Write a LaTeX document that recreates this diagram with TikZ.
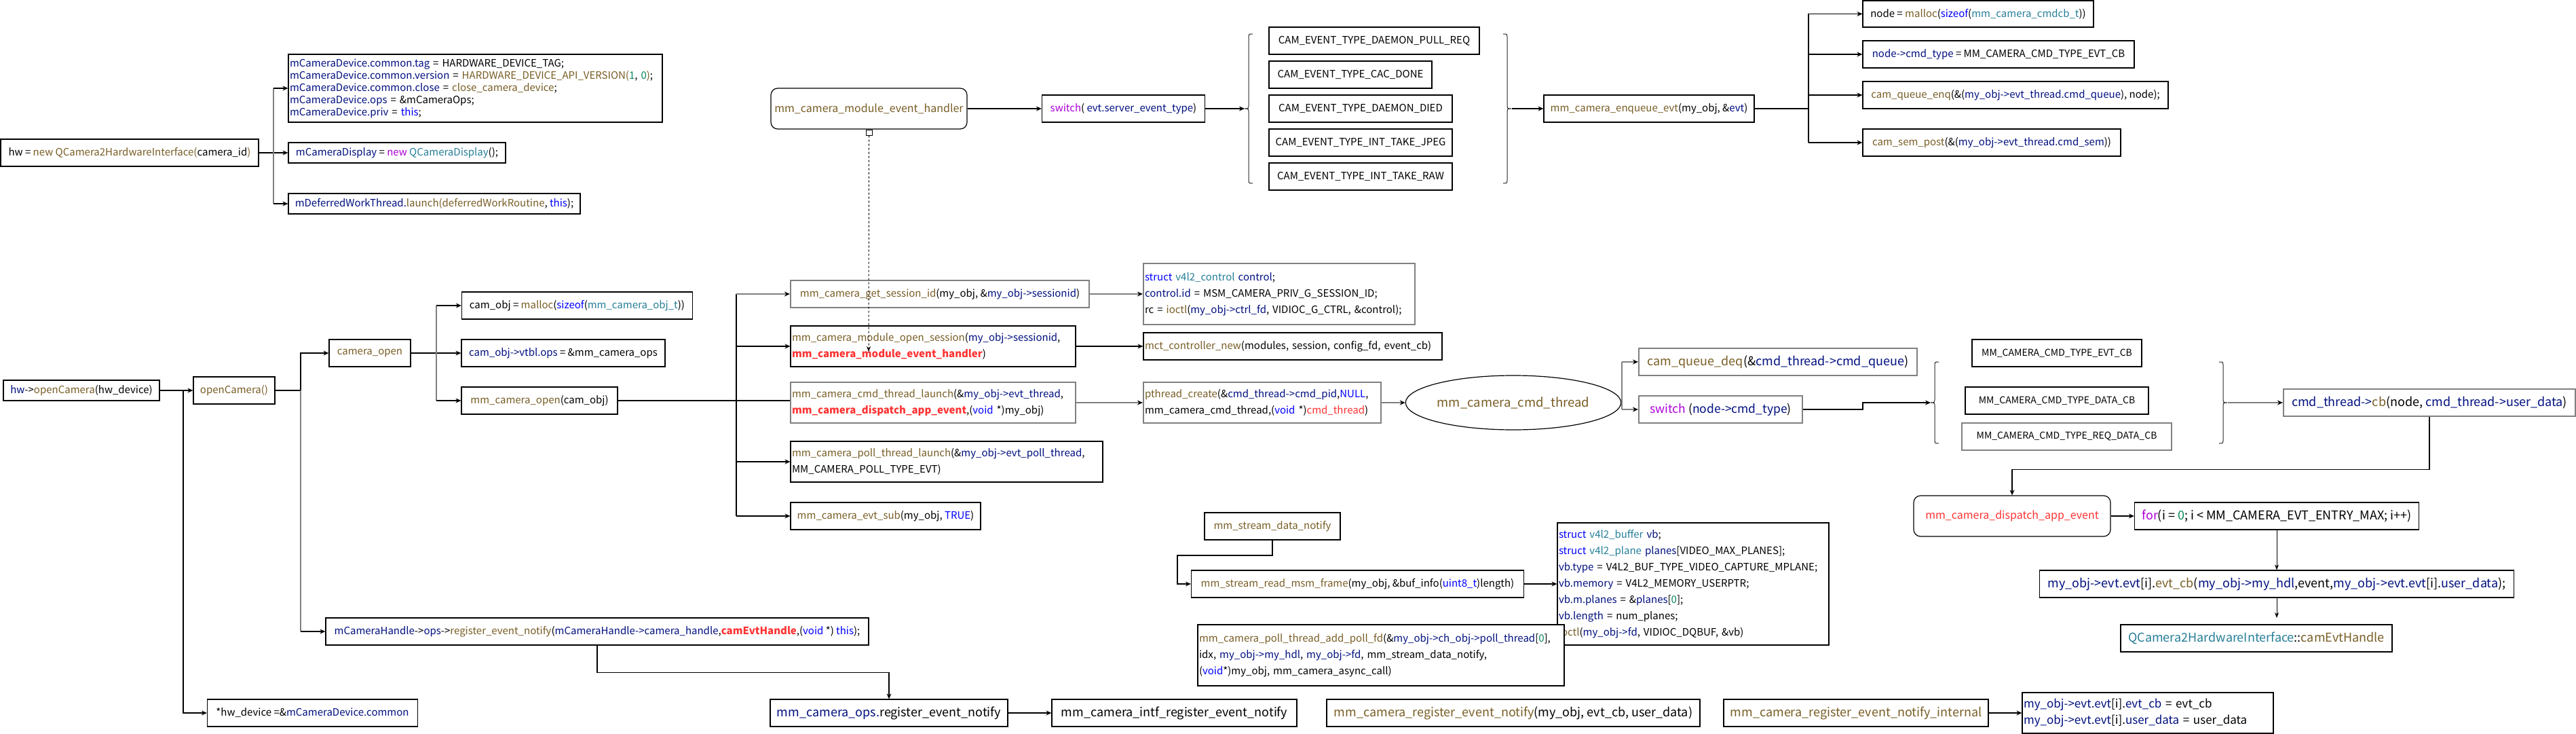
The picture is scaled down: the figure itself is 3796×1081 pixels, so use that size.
\documentclass[tikz,border=0pt]{standalone}
\usepackage{fontspec}
\setmainfont{Noto Sans CJK SC}
\usetikzlibrary{arrows.meta,shapes.geometric,calc}
\definecolor{cfn}{HTML}{795E26}
\definecolor{cvr}{HTML}{001080}
\definecolor{ckw}{HTML}{0000FF}
\definecolor{cty}{HTML}{267F99}
\definecolor{cct}{HTML}{AF00DB}
\definecolor{cnm}{HTML}{098658}
\definecolor{crd}{HTML}{FF3333}
\definecolor{gline}{HTML}{808080}
\newcommand\cF[1]{\textcolor{cfn}{#1}}
\newcommand\cV[1]{\textcolor{cvr}{#1}}
\newcommand\cK[1]{\textcolor{ckw}{#1}}
\newcommand\cT[1]{\textcolor{cty}{#1}}
\newcommand\cC[1]{\textcolor{cct}{#1}}
\newcommand\cN[1]{\textcolor{cnm}{#1}}
\newcommand\cR[1]{\textcolor{crd}{#1}}
\tikzset{
  bx/.style={draw=black, line width=1.2pt, rectangle, inner sep=0pt, fill=white, font=\fontsize{15}{24}\selectfont},
  gbx/.style={bx, draw=gline, line width=2.2pt},
  lbx/.style={bx, align=left, inner xsep=2pt},
  glbx/.style={gbx, align=left, inner xsep=2pt},
  sz/.style n args={2}{minimum width=#1pt, minimum height=#2pt},
  ln/.style={line width=1.2pt, draw=black},
  gln/.style={line width=2pt, draw=gline},
  arr/.style={ln, -{Stealth[length=8pt,width=7pt,black]}},
  garr/.style={gln, -{Stealth[length=8pt,width=7pt,black]}},
  tarr/.style={line width=0.8pt, -{Stealth[length=8pt,width=6pt]}},
  brc/.style={line width=1pt, draw=black!85},
  f14/.style={font=\fontsize{14}{20}\selectfont},
  f15/.style={font=\fontsize{15}{20}\selectfont},
  f16/.style={font=\fontsize{16}{24}\selectfont},
  f17/.style={font=\fontsize{17}{24}\selectfont},
  f175/.style={font=\fontsize{17.5}{24}\selectfont},
  f18/.style={font=\fontsize{18}{24}\selectfont},
  f185/.style={font=\fontsize{18.5}{24}\selectfont},
}
\begin{document}
\catcode`\_=12
\begin{tikzpicture}[x=1pt,y=-1pt]
\path[use as bounding box, fill=white] (0,0) rectangle (3796,1081);

% ---------- constructor part ----------
\node[bx, sz={380}{40}] (hwnew) at (191,225) {hw = \cF{new QCamera2HardwareInterface(}camera_id\cF{)}};
\node[lbx, sz={551}{100}, text width=547pt, font=\fontsize{15}{18}\selectfont] (devinit) at (700.5,130) {\cV{mCameraDevice.common.tag} = HARDWARE_DEVICE_TAG;\\
\cV{mCameraDevice.common.version} = \cF{HARDWARE_DEVICE_API_VERSION(}\cN{1}, \cN{0}\cF{)};\\
\cV{mCameraDevice.common.close} = \cF{close_camera_device};\\
\cV{mCameraDevice.ops} = \&mCameraOps;\\
\cV{mCameraDevice.priv} = \cK{this};};
\node[bx, sz={320}{30}] (disp) at (585,225) {\cV{mCameraDisplay} = \cC{new} \cT{QCameraDisplay}();};
\node[bx, sz={430}{30}] (defer) at (640,300) {\cV{mDeferredWorkThread.}\cF{launch(deferredWorkRoutine}, \cK{this});};

% ---------- openCamera part ----------
\node[bx, sz={230}{30}] (hwopen) at (120,575) {\cV{hw}->\cF{openCamera}(hw_device)};
\node[bx, sz={120}{40}] (opencam) at (345,575) {\cF{openCamera()}};
\node[bx, sz={120}{40}] (camopen) at (545,520) {\cF{camera_open}};
\node[bx, sz={340}{40}] (malloc) at (850.5,450) {cam_obj = \cF{malloc}(\cK{sizeof}(\cT{mm_camera_obj_t}))};
\node[bx, sz={300}{40}] (vtbl) at (830,520) {\cV{cam_obj->vtbl.ops} = \&mm_camera_ops};
\node[bx, sz={230}{40}] (mmopen) at (795,590) {\cF{mm_camera_open}(cam_obj)};
\node[bx, sz={310}{40}] (hwdev) at (460.5,1050) {*hw_device =\&\cV{mCameraDevice.common}};
\node[bx, sz={800}{40}] (handle) at (880,930) {\cV{mCameraHandle}->\cV{ops}->\cF{register_event_notify}(\cV{mCameraHandle->camera_handle},\textbf{\cR{camEvtHandle}},(\cK{void} *) \cK{this});};

% ---------- mm_camera_open children ----------
\node[gbx, sz={440}{40}] (getsid) at (1385,433) {\cF{mm_camera_get_session_id}(my_obj, \&\cV{my_obj->sessionid})};
\node[lbx, sz={420}{60}, text width=416pt] (opensess) at (1375,510) {\cF{mm_camera_module_open_session}(\cV{my_obj->sessionid},\\ \textbf{\cR{mm_camera_module_event_handler}})};
\node[glbx, sz={420}{60}, text width=416pt] (cmdlaunch) at (1375,593) {\cF{mm_camera_cmd_thread_launch}(\&\cV{my_obj->evt_thread},\\ \textbf{\cR{mm_camera_dispatch_app_event}},(\cK{void} *)my_obj)};
\node[lbx, sz={460}{60}, text width=456pt] (polllaunch) at (1395,680) {\cF{mm_camera_poll_thread_launch}(\&\cV{my_obj->evt_poll_thread},\\ MM_CAMERA_POLL_TYPE_EVT)};
\node[bx, sz={280}{40}] (evtsub) at (1305,760) {\cF{mm_camera_evt_sub}(my_obj, \cK{TRUE})};

\node[glbx, sz={400}{90}, text width=396pt] (ctrl) at (1885,433) {\cK{struct} \cT{v4l2_control} \cV{control};\\
\cV{control.id} = MSM_CAMERA_PRIV_G_SESSION_ID;\\
rc = \cF{ioctl}(\cV{my_obj->ctrl_fd}, VIDIOC_G_CTRL, \&control);};
\node[lbx, sz={440}{40}, text width=436pt] (mct) at (1905,510) {\cF{mct_controller_new}(modules, session, config_fd, event_cb)};
\node[glbx, sz={350}{60}, text width=346pt] (pthread) at (1860,593) {\cF{pthread_create}(\&\cV{cmd_thread->cmd_pid},\cK{NULL},\\ mm_camera_cmd_thread,(\cK{void} *)\cR{cmd_thread})};
\node[draw=black, line width=1.2pt, ellipse, inner sep=0pt, sz={269}{80}, f185] (ell) at (2230,593) {\cF{mm_camera_cmd_thread}};
\node[gbx, sz={410}{40}, f18] (deq) at (2620,533) {\cF{cam_queue_deq}(\&\cV{cmd_thread->cmd_queue})};
\node[gbx, sz={241}{40}, f175] (sw2) at (2535.5,603) {\cC{switch} (\cV{node->cmd_type})};
\node[bx, sz={250}{40}, f14] (mm1) at (3031,520) {MM_CAMERA_CMD_TYPE_EVT_CB};
\node[bx, sz={270}{40}, f14] (mm2) at (3031,590) {MM_CAMERA_CMD_TYPE_DATA_CB};
\node[gbx, sz={309}{40}, f14] (mm3) at (3045.5,643) {MM_CAMERA_CMD_TYPE_REQ_DATA_CB};
\node[gbx, sz={430}{40}, f18] (cb) at (3580,593) {\cV{cmd_thread->}\cF{cb}(node, \cV{cmd_thread->user_data})};
\node[bx, rounded corners=10pt, sz={290}{60}, f16] (dispatch) at (2965,760) {\cR{mm_camera_dispatch_app_event}};
\node[bx, sz={419}{40}, f18] (forb) at (3355,760) {\cC{for}(i = \cN{0}; i < MM_CAMERA_EVT_ENTRY_MAX; i++)};
\node[bx, sz={699}{40}, f18] (evtcall) at (3355,860) {\cV{my_obj->evt.evt}[i].\cF{evt_cb}(\cV{my_obj->my_hdl},event,\cV{my_obj->evt.evt}[i].\cV{user_data});};
\node[bx, sz={400}{40}, f18] (qcam) at (3325,940) {\cT{QCamera2HardwareInterface}::\cF{camEvtHandle}};

% ---------- event handler part ----------
\node[bx, rounded corners=10pt, sz={289}{60}, f16] (handler) at (1280.5,160) {\cF{mm_camera_module_event_handler}};
\node[bx, sz={240}{40}] (sw1) at (1655.5,160) {\cC{switch}( \cV{evt.server_event_type})};
\node[bx, sz={310}{40}, f15] (cam1) at (2025,60) {CAM_EVENT_TYPE_DAEMON_PULL_REQ};
\node[bx, sz={240}{40}, f15] (cam2) at (1990,110) {CAM_EVENT_TYPE_CAC_DONE};
\node[bx, sz={270}{40}, f15] (cam3) at (2005,160) {CAM_EVENT_TYPE_DAEMON_DIED};
\node[bx, sz={270}{40}, f15] (cam4) at (2005,210) {CAM_EVENT_TYPE_INT_TAKE_JPEG};
\node[bx, sz={270}{40}, f15] (cam5) at (2005,260) {CAM_EVENT_TYPE_INT_TAKE_RAW};
\node[bx, sz={310}{40}] (enq) at (2430,160) {\cF{mm_camera_enqueue_evt}(my_obj, \&\cV{evt})};
\node[bx, sz={340}{39}] (nm1) at (2915,20.5) {node = \cF{malloc}(\cK{sizeof}(\cT{mm_camera_cmdcb_t}))};
\node[bx, sz={400}{40}] (nm2) at (2945,80) {\cV{node->cmd_type} = MM_CAMERA_CMD_TYPE_EVT_CB};
\node[bx, sz={450}{40}] (nm3) at (2970,140) {\cF{cam_queue_enq}(\&(\cV{my_obj->evt_thread.cmd_queue}), node);};
\node[bx, sz={380}{40}] (nm4) at (2935,210) {\cF{cam_sem_post}(\&(\cV{my_obj->evt_thread.cmd_sem}))};

% ---------- register / stream part ----------
\node[bx, sz={350}{40}, f18] (opsreg) at (1310,1050) {\cV{mm_camera_ops.}register_event_notify};
\node[bx, sz={361}{40}, f18] (intfreg) at (1730.5,1050) {mm_camera_intf_register_event_notify};
\node[bx, sz={550}{40}, f18] (reg) at (2230,1050) {\cF{mm_camera_register_event_notify}(my_obj, evt_cb, user_data)};
\node[bx, sz={390}{40}, f18] (regint) at (2735,1050) {\cF{mm_camera_register_event_notify_internal}};
\node[lbx, sz={370}{60}, text width=366pt, f17] (assign) at (3165,1050) {\cV{my_obj->evt.evt}[i].\cV{evt_cb} = evt_cb\\ \cV{my_obj->evt.evt}[i].\cV{user_data} = user_data};
\node[bx, sz={200}{40}] (sdn) at (1875,775) {\cF{mm_stream_data_notify}};
\node[bx, sz={490}{40}] (readmsm) at (2000.5,860) {\cF{mm_stream_read_msm_frame}(my_obj, \&buf_info(\cK{uint8_t})length)};
\node[lbx, sz={400}{180}, text width=396pt] (v4l2) at (2495,860) {\cK{struct} \cT{v4l2_buffer} \cV{vb};\\
\cK{struct} \cT{v4l2_plane} \cV{planes}[VIDEO_MAX_PLANES];\\
\cV{vb.type} = V4L2_BUF_TYPE_VIDEO_CAPTURE_MPLANE;\\
\cV{vb.memory} = V4L2_MEMORY_USERPTR;\\
\cV{vb.m.planes} = \&\cV{planes}[\cN{0}];\\
\cV{vb.length} = num_planes;\\
\cF{ioctl}(\cV{my_obj->fd}, VIDIOC_DQBUF, \&vb)};
\node[lbx, sz={540}{90}, text width=536pt] (pollfd) at (2035,965) {\cF{mm_camera_poll_thread_add_poll_fd}(\&\cV{my_obj->ch_obj->poll_thread}[\cN{0}],\\
idx, \cV{my_obj->my_hdl}, \cV{my_obj->fd}, mm_stream_data_notify,\\
(\cK{void}*)my_obj, mm_camera_async_call)};

% ---------- connectors: constructor ----------
\coordinate (j1) at (403,225);
\draw[arr] (hwnew.east) -- (disp.west);
\draw[gln, line width=1.2pt] (devinit.west -| j1) -- (defer.west -| j1);
\draw[arr] (devinit.west -| j1) -- (devinit.west);
\draw[arr] (defer.west -| j1) -- (defer.west);

% ---------- connectors: openCamera ----------
\coordinate (j2) at (270,575);
\draw[arr] (hwopen.east) -- (opencam.west);
\draw[arr] (j2) |- (hwdev.west);
\coordinate (j3) at (443,575);
\draw[arr] (opencam.east) -- (j3) |- (camopen.west);
\draw[gln, line width=1.2pt] (j3) -- (handle.west -| j3);
\draw[arr] (handle.west -| j3) -- (handle.west);
\coordinate (j4) at (643,520);
\draw[arr] (camopen.east) -- (vtbl.west);
\draw[gln, line width=1.2pt] (malloc.west -| j4) -- (mmopen.west -| j4);
\draw[arr] (malloc.west -| j4) -- (malloc.west);
\draw[arr] (mmopen.west -| j4) -- (mmopen.west);
\coordinate (j5) at (1085,590);
\draw[ln] (mmopen.east) -- (cmdlaunch.west |- mmopen.east);
\draw[ln] (getsid.west -| j5) -- (evtsub.west -| j5);
\draw[garr] (getsid.west -| j5) -- (getsid.west);
\draw[arr] (opensess.west -| j5) -- (opensess.west);
\draw[arr] (polllaunch.west -| j5) -- (polllaunch.west);
\draw[arr] (evtsub.west -| j5) -- (evtsub.west);
\draw[garr] (getsid.east) -- (ctrl.west);
\draw[arr] (opensess.east) -- (mct.west);
\draw[garr] (cmdlaunch.east) -- (pthread.west);
\draw[garr] (pthread.east) -- (ell.west);
\coordinate (j6) at (2390,593);
\draw[ln, line width=2pt, draw=black!75] (ell.east) -- (j6);
\draw[gln] (deq.west -| j6) -- (sw2.west -| j6);
\draw[garr] (deq.west -| j6) -- (deq.west);
\draw[garr] (sw2.west -| j6) -- (sw2.west);

% braces (cmd types)
\draw[brc] (2857,533) .. controls (2851,533) .. (2851,540) -- (2851,586) .. controls (2851,593) .. (2845,593) .. controls (2851,593) .. (2851,600) -- (2851,646) .. controls (2851,653) .. (2857,653);
\coordinate (lb2) at (2845,593);
\draw[brc] (3270,533) .. controls (3276,533) .. (3276,540) -- (3276,586) .. controls (3276,593) .. (3282,593) .. controls (3276,593) .. (3276,600) -- (3276,646) .. controls (3276,653) .. (3270,653);
\coordinate (rb2) at (3283,593);
\coordinate (k1) at (2745,603);
\draw[arr] (sw2.east) -- (k1) |- (lb2);
\draw[garr] (rb2) -- (cb.west);
\draw[arr] (cb.south) -- ++(0,77) -| (dispatch.north);
\draw[arr] (dispatch.east) -- (forb.west);
\draw[tarr] (forb.south) -- (evtcall.north);
\coordinate (qend) at (3355,910);
\draw[tarr] (evtcall.south) -- (qend);

% ---------- connectors: event handler ----------
\draw[brc] (1846,50) .. controls (1840,50) .. (1840,57) -- (1840,153) .. controls (1840,160) .. (1834,160) .. controls (1840,160) .. (1840,167) -- (1840,263) .. controls (1840,270) .. (1846,270);
\coordinate (lb1) at (1834,160);
\draw[brc] (2215,50) .. controls (2221,50) .. (2221,57) -- (2221,153) .. controls (2221,160) .. (2227,160) .. controls (2221,160) .. (2221,167) -- (2221,263) .. controls (2221,270) .. (2215,270);
\coordinate (rb1) at (2228,160);
\draw[arr] (handler.east) -- (sw1.west);
\draw[arr] (sw1.east) -- (lb1);
\draw[arr] (rb1) -- (enq.west);
\coordinate (j7) at (2665,160);
\draw[ln] (enq.east) -- (j7);
\draw[ln] (nm1.west -| j7) -- (nm4.west -| j7);
\draw[arr] (nm1.west -| j7) -- (nm1.west);
\draw[arr] (nm2.west -| j7) -- (nm2.west);
\draw[arr] (nm3.west -| j7) -- (nm3.west);
\draw[arr] (nm4.west -| j7) -- (nm4.west);

% ---------- connectors: register / stream ----------
\draw[arr] (handle.south) -- ++(0,40) -| (opsreg.north);
\draw[arr] (opsreg.east) -- (intfreg.west);
\draw[arr] (regint.east) -- (assign.west);
\coordinate (k2) at (1735,818);
\draw[arr] (sdn.south) |- (k2) |- (readmsm.west);
\draw[arr] (readmsm.east) -- (v4l2.west);

% dashed link from handler to its registration
\node[draw=black, fill=white, line width=1pt, inner sep=0pt, minimum width=9pt, minimum height=8pt, anchor=north] (sq) at (handler.south) {};
\coordinate (dend) at (1280,518);
\draw[line width=1pt, dashed, -{Stealth[length=8pt,width=6pt]}] (sq.south) -- (dend);
\end{tikzpicture}
\end{document}
